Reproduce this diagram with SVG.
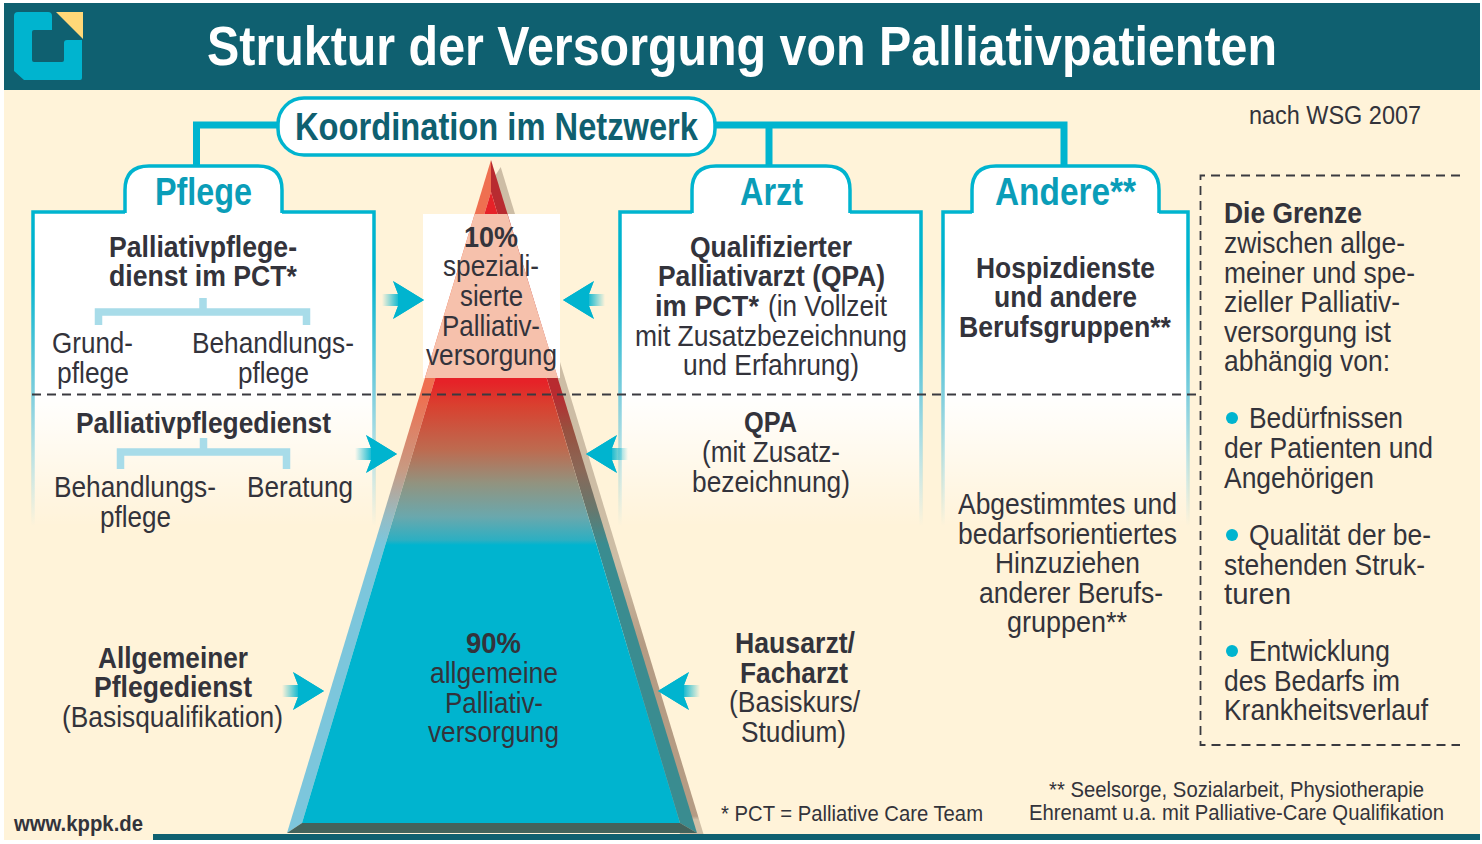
<svg xmlns="http://www.w3.org/2000/svg" xmlns:xlink="http://www.w3.org/1999/xlink" width="1482" height="844" viewBox="0 0 1482 844">
<style>
text{font-family:"Liberation Sans",Arial,sans-serif;font-size:29px;fill:#33333b}
.b{font-weight:bold}
.tab{font-weight:bold;font-size:38px;fill:#0a9db8}
.sm{font-size:22px}
.box{fill:url(#boxFill);stroke:none}
.edge{fill:none;stroke:url(#edge);stroke-width:3.5}
.tabshape{fill:none;stroke:#00b4cf;stroke-width:3.5}
.conn{fill:none;stroke:#00b4cf;stroke-width:7}
.brk{fill:none;stroke:#a8dce9;stroke-width:7.5}
.dash{fill:none;stroke:#3a3a40;stroke-width:1.8;stroke-dasharray:9 6}
.dot{fill:#00b4cf}
</style>
<defs>
<linearGradient id="boxFill" gradientUnits="userSpaceOnUse" x1="0" y1="212" x2="0" y2="526">
<stop offset="0" stop-color="#fff"/><stop offset="0.58" stop-color="#fff"/><stop offset="1" stop-color="#fff" stop-opacity="0"/>
</linearGradient>
<linearGradient id="edge" gradientUnits="userSpaceOnUse" x1="0" y1="212" x2="0" y2="526">
<stop offset="0" stop-color="#00b4cf"/><stop offset="0.2" stop-color="#00b4cf"/><stop offset="0.58" stop-color="#7fcedd"/><stop offset="1" stop-color="#7fcedd" stop-opacity="0"/>
</linearGradient>
<linearGradient id="tail" gradientUnits="userSpaceOnUse" x1="-42" y1="0" x2="-24" y2="0">
<stop offset="0" stop-color="#00b4cf" stop-opacity="0"/><stop offset="1" stop-color="#00b4cf"/>
</linearGradient>
<linearGradient id="front" gradientUnits="userSpaceOnUse" x1="0" y1="160" x2="0" y2="833">
<stop offset="0.33" stop-color="#e62228"/><stop offset="0.364" stop-color="#d9402f"/><stop offset="0.431" stop-color="#bd6b50"/><stop offset="0.48" stop-color="#92937f"/><stop offset="0.53" stop-color="#6aa8ad"/><stop offset="0.565" stop-color="#2cafc2"/><stop offset="0.572" stop-color="#00b4cf"/>
</linearGradient>
<linearGradient id="leftFace" gradientUnits="userSpaceOnUse" x1="0" y1="160" x2="0" y2="833">
<stop offset="0.35" stop-color="#ef6f50"/><stop offset="0.46" stop-color="#c89a82"/><stop offset="0.53" stop-color="#95bcc4"/><stop offset="0.57" stop-color="#7cc6dc"/>
</linearGradient>
<linearGradient id="rightFace" gradientUnits="userSpaceOnUse" x1="0" y1="160" x2="0" y2="833">
<stop offset="0.35" stop-color="#b82b30"/><stop offset="0.4" stop-color="#98503f"/><stop offset="0.46" stop-color="#8a6857"/><stop offset="0.52" stop-color="#66786e"/><stop offset="0.57" stop-color="#3a8c90"/>
</linearGradient>
<linearGradient id="shadow" gradientUnits="userSpaceOnUse" x1="0" y1="160" x2="0" y2="833">
<stop offset="0.6" stop-color="#cdbda5"/><stop offset="0.72" stop-color="#b59c84"/><stop offset="0.975" stop-color="#b59c84"/><stop offset="0.98" stop-color="#d0bfa6"/>
</linearGradient>
<g id="arrow"><path d="M0 0L-31 -19L-26 -6H-42V6H-26L-31 19Z" fill="url(#tail)"/><path d="M0 0L-31 -19L-26 -6V6L-31 19Z" fill="#00b4cf"/></g>
</defs>

<rect id="background" x="4" y="3" width="1476" height="837" fill="#fff3d9"/>
<g id="header">
<rect x="4" y="3" width="1476" height="87" fill="#0f6070"/>
<path d="M18 12H48Q52 12 52 16V30H34Q32 30 32 32V60Q32 62 34 62H62Q64 62 64 60V43Q64 40 67 40H82V78Q82 80 80 80H24L14 71V16Q14 12 18 12Z" fill="#00b4cf"/>
<path d="M56 12H83V39Z" fill="#ffd878"/>
<text x="207" y="65" textLength="1070" lengthAdjust="spacingAndGlyphs" class="b" style="font-size:55px;fill:#fff">Struktur der Versorgung von Palliativpatienten</text>
</g>
<rect id="footer-bar" x="153" y="834" width="1327" height="6" fill="#0f6070"/>

<g id="connectors">
<path class="conn" d="M280 125H196.500V168"/>
<path class="conn" d="M713 125H1064V168"/>
<path class="conn" d="M769 125V168"/>
</g>

<g id="node-pflege">
<path class="box" d="M32 212H125V190Q125 166 149 166H258Q282 166 282 190V212H375V526H32Z"/>
<path class="edge" d="M33 526V212H125"/><path class="edge" d="M282 212H374V526"/>
<path class="tabshape" d="M125 213V190Q125 166 149 166H258Q282 166 282 190V213"/>
<text class="tab" x="155" y="205" textLength="97" lengthAdjust="spacingAndGlyphs">Pflege</text>
<text class="b" x="109" y="257" textLength="188" lengthAdjust="spacingAndGlyphs">Palliativpflege-</text>
<text class="b" x="109" y="286" textLength="188" lengthAdjust="spacingAndGlyphs">dienst im PCT*</text>
<path class="brk" d="M98.500 325V312H306.500V325M203 298V312"/>
<text x="52" y="353" textLength="81" lengthAdjust="spacingAndGlyphs">Grund-</text>
<text x="57" y="383" textLength="72" lengthAdjust="spacingAndGlyphs">pflege</text>
<text x="192" y="353" textLength="162" lengthAdjust="spacingAndGlyphs">Behandlungs-</text>
<text x="238" y="383" textLength="71" lengthAdjust="spacingAndGlyphs">pflege</text>
<text class="b" x="76" y="433" textLength="255" lengthAdjust="spacingAndGlyphs">Palliativpflegedienst</text>
<path class="brk" d="M120.500 469V452H286.500V469M203.500 438V452"/>
<text x="54" y="497" textLength="162" lengthAdjust="spacingAndGlyphs">Behandlungs-</text>
<text x="100" y="527" textLength="71" lengthAdjust="spacingAndGlyphs">pflege</text>
<text x="247" y="497" textLength="106" lengthAdjust="spacingAndGlyphs">Beratung</text>
</g>

<g id="node-arzt">
<path class="box" d="M620 212H692V190Q692 166 716 166H826Q850 166 850 190V212H922V526H620Z"/>
<path class="edge" d="M620 526V212H692"/><path class="edge" d="M850 212H921V526"/>
<path class="tabshape" d="M692 213V190Q692 166 716 166H826Q850 166 850 190V213"/>
<text class="tab" x="740" y="205" textLength="63" lengthAdjust="spacingAndGlyphs">Arzt</text>
<text class="b" x="690" y="257" textLength="162" lengthAdjust="spacingAndGlyphs">Qualifizierter</text>
<text class="b" x="658" y="286" textLength="227" lengthAdjust="spacingAndGlyphs">Palliativarzt (QPA)</text>
<text class="b" x="655" y="316" textLength="104" lengthAdjust="spacingAndGlyphs">im PCT*</text>
<text x="768" y="316" textLength="119" lengthAdjust="spacingAndGlyphs">(in Vollzeit</text>
<text x="635" y="346" textLength="272" lengthAdjust="spacingAndGlyphs">mit Zusatzbezeichnung</text>
<text x="683" y="375" textLength="176" lengthAdjust="spacingAndGlyphs">und Erfahrung)</text>
<text class="b" x="744" y="432" textLength="53" lengthAdjust="spacingAndGlyphs">QPA</text>
<text x="702" y="462" textLength="138" lengthAdjust="spacingAndGlyphs">(mit Zusatz-</text>
<text x="692" y="492" textLength="158" lengthAdjust="spacingAndGlyphs">bezeichnung)</text>
</g>

<g id="node-andere">
<path class="box" d="M943 212H972V190Q972 166 996 166H1135Q1159 166 1159 190V212H1188V526H943Z"/>
<path class="edge" d="M943 526V212H972"/><path class="edge" d="M1159 212H1188V526"/>
<path class="tabshape" d="M972 213V190Q972 166 996 166H1135Q1159 166 1159 190V213"/>
<text class="tab" x="995" y="205" textLength="141" lengthAdjust="spacingAndGlyphs">Andere**</text>
<text class="b" x="976" y="278" textLength="179" lengthAdjust="spacingAndGlyphs">Hospizdienste</text>
<text class="b" x="994" y="307" textLength="143" lengthAdjust="spacingAndGlyphs">und andere</text>
<text class="b" x="959" y="337" textLength="212" lengthAdjust="spacingAndGlyphs">Berufsgruppen**</text>
<text x="958" y="514" textLength="219" lengthAdjust="spacingAndGlyphs">Abgestimmtes und</text>
<text x="958" y="544" textLength="219" lengthAdjust="spacingAndGlyphs">bedarfsorientiertes</text>
<text x="995" y="573" textLength="145" lengthAdjust="spacingAndGlyphs">Hinzuziehen</text>
<text x="979" y="603" textLength="184" lengthAdjust="spacingAndGlyphs">anderer Berufs-</text>
<text x="1007" y="632" textLength="120" lengthAdjust="spacingAndGlyphs">gruppen**</text>
</g>

<g id="node-koordination">
<rect x="278" y="98" width="437" height="57" rx="26" fill="#fff" stroke="#00b4cf" stroke-width="3.500"/>
<text class="b" x="295" y="140" textLength="403" lengthAdjust="spacingAndGlyphs" style="font-size:38px;fill:#0f6070">Koordination im Netzwerk</text>
</g>

<g id="node-pyramide">
<path d="M500.700 167L703.500 834H680L495 176Z" fill="url(#shadow)"/>
<rect x="423" y="214" width="137" height="164" fill="#fff"/>
<path d="M491 160L287 833L302 823L491 192Z" fill="url(#leftFace)"/>
<path d="M491 160L697 833L680 823L491 192Z" fill="url(#rightFace)"/>
<path d="M491 192L302 823H680Z" fill="url(#front)"/>
<path d="M287 833L302 823H680L697 833Z" fill="#44635c"/>
<path d="M474.700 214H507.400L558 378H425Z" fill="#f6c1ac"/>
<text class="b" x="464" y="247" textLength="54" lengthAdjust="spacingAndGlyphs">10%</text>
<text x="443" y="276" textLength="96" lengthAdjust="spacingAndGlyphs">speziali-</text>
<text x="460" y="306" textLength="63" lengthAdjust="spacingAndGlyphs">sierte</text>
<text x="442" y="336" textLength="98" lengthAdjust="spacingAndGlyphs">Palliativ-</text>
<text x="426" y="365" textLength="131" lengthAdjust="spacingAndGlyphs">versorgung</text>
<text class="b" x="466" y="653" textLength="55" lengthAdjust="spacingAndGlyphs">90%</text>
<text x="430" y="683" textLength="128" lengthAdjust="spacingAndGlyphs">allgemeine</text>
<text x="445" y="713" textLength="98" lengthAdjust="spacingAndGlyphs">Palliativ-</text>
<text x="428" y="742" textLength="131" lengthAdjust="spacingAndGlyphs">versorgung</text>
</g>

<path id="grenze-linie" class="dash" d="M32 394.500H1198"/>

<g id="arrows">
<use xlink:href="#arrow" href="#arrow" transform="translate(424 300)"/>
<use xlink:href="#arrow" href="#arrow" transform="translate(563 300) scale(-1 1)"/>
<use xlink:href="#arrow" href="#arrow" transform="translate(397 454)"/>
<use xlink:href="#arrow" href="#arrow" transform="translate(586 454) scale(-1 1)"/>
<use xlink:href="#arrow" href="#arrow" transform="translate(324 691)"/>
<use xlink:href="#arrow" href="#arrow" transform="translate(658 691) scale(-1 1)"/>
</g>

<g id="node-allgemeiner-pflegedienst">
<text class="b" x="98" y="668" textLength="150" lengthAdjust="spacingAndGlyphs">Allgemeiner</text>
<text class="b" x="94" y="697" textLength="158" lengthAdjust="spacingAndGlyphs">Pflegedienst</text>
<text x="62" y="727" textLength="221" lengthAdjust="spacingAndGlyphs">(Basisqualifikation)</text>
</g>
<g id="node-hausarzt">
<text class="b" x="735" y="653" textLength="120" lengthAdjust="spacingAndGlyphs">Hausarzt/</text>
<text class="b" x="740" y="683" textLength="108" lengthAdjust="spacingAndGlyphs">Facharzt</text>
<text x="729" y="712" textLength="131" lengthAdjust="spacingAndGlyphs">(Basiskurs/</text>
<text x="741" y="742" textLength="105" lengthAdjust="spacingAndGlyphs">Studium)</text>
</g>

<g id="node-grenze">
<path class="dash" d="M1460 175.500H1200.500V745H1460"/>
<text class="b" x="1224" y="223" textLength="138" lengthAdjust="spacingAndGlyphs">Die Grenze</text>
<text x="1224" y="253" textLength="181" lengthAdjust="spacingAndGlyphs">zwischen allge-</text>
<text x="1224" y="283" textLength="191" lengthAdjust="spacingAndGlyphs">meiner und spe-</text>
<text x="1224" y="312" textLength="176" lengthAdjust="spacingAndGlyphs">zieller Palliativ-</text>
<text x="1224" y="342" textLength="167" lengthAdjust="spacingAndGlyphs">versorgung ist</text>
<text x="1224" y="371" textLength="166" lengthAdjust="spacingAndGlyphs">abhängig von:</text>
<circle class="dot" cx="1232" cy="418" r="6"/>
<text x="1249" y="428" textLength="154" lengthAdjust="spacingAndGlyphs">Bedürfnissen</text>
<text x="1224" y="458" textLength="209" lengthAdjust="spacingAndGlyphs">der Patienten und</text>
<text x="1224" y="488" textLength="150" lengthAdjust="spacingAndGlyphs">Angehörigen</text>
<circle class="dot" cx="1232" cy="535" r="6"/>
<text x="1249" y="545" textLength="182" lengthAdjust="spacingAndGlyphs">Qualität der be-</text>
<text x="1224" y="575" textLength="201" lengthAdjust="spacingAndGlyphs">stehenden Struk-</text>
<text x="1224" y="604" textLength="67" lengthAdjust="spacingAndGlyphs">turen</text>
<circle class="dot" cx="1232" cy="651" r="6"/>
<text x="1249" y="661" textLength="141" lengthAdjust="spacingAndGlyphs">Entwicklung</text>
<text x="1224" y="691" textLength="176" lengthAdjust="spacingAndGlyphs">des Bedarfs im</text>
<text x="1224" y="720" textLength="204" lengthAdjust="spacingAndGlyphs">Krankheitsverlauf</text>
</g>

<g id="notes">
<text x="1249" y="124" textLength="172" lengthAdjust="spacingAndGlyphs" style="font-size:25px">nach WSG 2007</text>
<text class="sm" x="721" y="821" textLength="262" lengthAdjust="spacingAndGlyphs">* PCT = Palliative Care Team</text>
<text class="sm" x="1049" y="797" textLength="375" lengthAdjust="spacingAndGlyphs">** Seelsorge, Sozialarbeit, Physiotherapie</text>
<text class="sm" x="1029" y="820" textLength="415" lengthAdjust="spacingAndGlyphs">Ehrenamt u.a. mit Palliative-Care Qualifikation</text>
<text class="sm b" x="14" y="831" textLength="129" lengthAdjust="spacingAndGlyphs">www.kppk.de</text>
</g>
</svg>
